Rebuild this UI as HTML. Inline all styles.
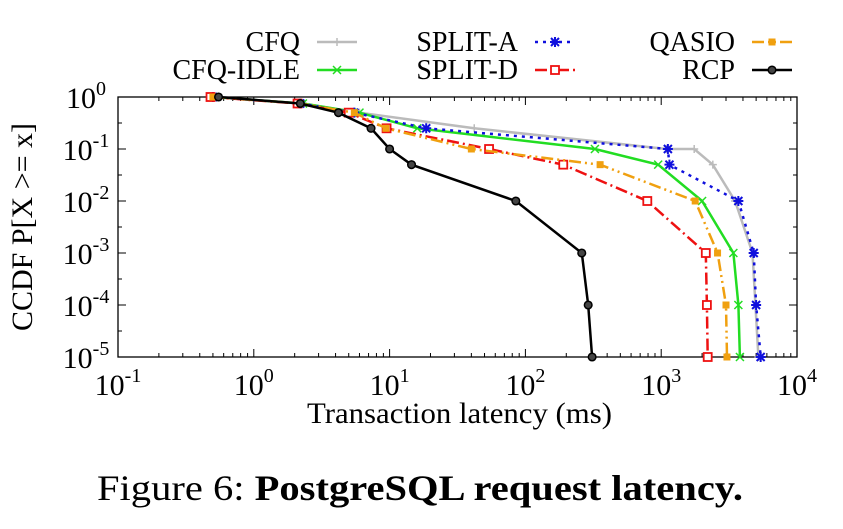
<!DOCTYPE html>
<html><head><meta charset="utf-8"><style>
body{margin:0;background:#fff;}
svg{display:block;font-family:"Liberation Serif",serif;}
</style></head><body>
<svg id="chart" width="843" height="529" viewBox="0 0 843 529">
<g id="legend"></g>
<g id="axes"></g>
<g id="plot"></g>
<text x="32" y="227" transform="rotate(-90 32 227)" text-anchor="middle" font-size="30">CCDF P[X &gt;= x]</text>
<text x="307" y="423" font-size="30" textLength="305" lengthAdjust="spacingAndGlyphs">Transaction latency (ms)</text>
<text x="97" y="500" font-size="36" textLength="646" lengthAdjust="spacingAndGlyphs">Figure 6: <tspan font-weight="bold">PostgreSQL request latency.</tspan></text>
</svg>
<script>
const xTickExps=[-1,0,1,2,3,4];
const yTickExps=[0,-1,-2,-3,-4,-5];
const seriesNames=["CFQ","CFQ-IDLE","SPLIT-A","SPLIT-D","QASIO","RCP"];
const yVals=[1,0.75,0.5,0.25,0.1,0.05,0.01,1e-3,1e-4,1e-5];
const cfqX=[0.5,2.3,6,42,1100,1750,2400,3500,4700,5200];
const cfqY=[1,0.75,0.5,0.25,0.1,0.1,0.05,0.01,1e-3,1e-5];
const cfqIdleX=[0.5,2.3,6,16,325,950,2000,3400,3700,3800];
const splitAX=[0.5,2.2,5.5,18.6,1120,1150,3700,4800,5000,5400];
const splitDX=[0.48,2.1,5,9.5,54,190,790,2130,2170,2200];
const qasioX=[0.5,2.2,5.5,9.4,40,355,1780,2600,3000,3050];
const rcpX=[0.55,2.2,4.2,7.3,10,14.5,85,260,290,310];

const L=118,R=797,T=97,B=357;
function xs(v){return L+(Math.log10(v)+1)*(R-L)/5;}
function ys(v){return T+(-Math.log10(v))*(B-T)/5;}
const NS="http://www.w3.org/2000/svg";
function mk(tag,attrs,parent){const e=document.createElementNS(NS,tag);for(const k in attrs)e.setAttribute(k,attrs[k]);parent.appendChild(e);return e;}
const axes=document.getElementById('axes'),plot=document.getElementById('plot'),leg=document.getElementById('legend');

const frame=mk('rect',{x:L,y:T,width:R-L,height:B-T,fill:'none',stroke:'#000','stroke-width':1.3},axes);


xTickExps.forEach(e=>{
  const x=xs(Math.pow(10,e));
  const t=mk('line',{x1:x,x2:x,y1:B,y2:B-8,stroke:'#000'},axes);
  
  
  mk('line',{x1:x,x2:x,y1:T,y2:T+8,stroke:'#000'},axes);
  if(e<4){for(let m=2;m<10;m++){const xm=xs(m*Math.pow(10,e));mk('line',{x1:xm,x2:xm,y1:B,y2:B-4,stroke:'#000'},axes);mk('line',{x1:xm,x2:xm,y1:T,y2:T+4,stroke:'#000'},axes);}}
  const lb=mk('text',{x:x,y:B+38,'text-anchor':'middle','font-size':30},axes);
  
  
  lb.innerHTML='10<tspan dy="-13" font-size="20">'+e+'</tspan>';
});
yTickExps.forEach(e=>{
  const y=ys(Math.pow(10,e));
  const t=mk('line',{x1:L,x2:L+8,y1:y,y2:y,stroke:'#000'},axes);
  
  
  mk('line',{x1:R,x2:R-8,y1:y,y2:y,stroke:'#000'},axes);
  if(e<0){const ym=ys(Math.pow(10,e+0.5));mk('line',{x1:L,x2:L+4,y1:ym,y2:ym,stroke:'#000'},axes);mk('line',{x1:R,x2:R-4,y1:ym,y2:ym,stroke:'#000'},axes);}
  const lb=mk('text',{x:L-32,y:y+11,'text-anchor':'middle','font-size':30},axes);
  
  
  lb.innerHTML='10<tspan dy="-13" font-size="20">'+e+'</tspan>';
});

const styles=[
 {c:'#bbbbbb',d:'',m:'plus',xsArr:cfqX,ysArr:cfqY},
 {c:'#22dd22',d:'',m:'x',xsArr:cfqIdleX,ysArr:yVals},
 {c:'#1010dd',d:'3 5',m:'star',xsArr:splitAX,ysArr:yVals},
 {c:'#ee1111',d:'12 4 2 4',m:'osq',xsArr:splitDX,ysArr:yVals},
 {c:'#f0a010',d:'12 4 2 4 2 4',m:'fsq',xsArr:qasioX,ysArr:yVals},
 {c:'#000000',d:'',m:'circ',xsArr:rcpX,ysArr:yVals}
];
function marker(g,m,x,y,c){
  if(m==='plus'){mk('path',{d:`M${x-4} ${y}H${x+4}M${x} ${y-4}V${y+4}`,stroke:c,'stroke-width':1.5},g);}
  else if(m==='x'){mk('path',{d:`M${x-4} ${y-4}L${x+4} ${y+4}M${x-4} ${y+4}L${x+4} ${y-4}`,stroke:c,'stroke-width':1.5},g);}
  else if(m==='star'){mk('path',{d:`M${x-4} ${y-4}L${x+4} ${y+4}M${x-4} ${y+4}L${x+4} ${y-4}M${x-5} ${y}H${x+5}M${x} ${y-5}V${y+5}`,stroke:c,'stroke-width':2},g);}
  else if(m==='osq'){mk('rect',{x:x-4,y:y-4,width:8,height:8,fill:'#fff',stroke:c,'stroke-width':1.8},g);}
  else if(m==='fsq'){mk('rect',{x:x-3.5,y:y-3.5,width:7,height:7,fill:c},g);}
  else {mk('circle',{cx:x,cy:y,r:3.8,fill:'#444',stroke:c,'stroke-width':1.5},g);}
}
styles.forEach((s,i)=>{
  const g=mk('g',{},plot);
  
  
  const pts=s.xsArr.map((v,j)=>xs(v).toFixed(1)+','+ys(s.ysArr[j]).toFixed(1)).join(' ');
  const pl=mk('polyline',{points:pts,fill:'none',stroke:s.c,'stroke-width':2.5,'stroke-dasharray':s.d},g);
  
  
  s.xsArr.forEach((v,j)=>marker(g,s.m,xs(v),ys(s.ysArr[j]),s.c));
});
const legPos=[[300,42],[300,70],[518,42],[518,70],[735,42],[735,70]];
styles.forEach((s,i)=>{
  const [tx,ty]=legPos[i];
  const g=mk('g',{},leg);
  
  
  const t=mk('text',{x:tx,y:ty+9,'text-anchor':'end','font-size':28},g);
  t.textContent=seriesNames[i];
  mk('line',{x1:tx+17,x2:tx+57,y1:ty,y2:ty,stroke:s.c,'stroke-width':2.5,'stroke-dasharray':s.d},g);
  marker(g,s.m,tx+37,ty,s.c);
});
</script>
</body></html>
